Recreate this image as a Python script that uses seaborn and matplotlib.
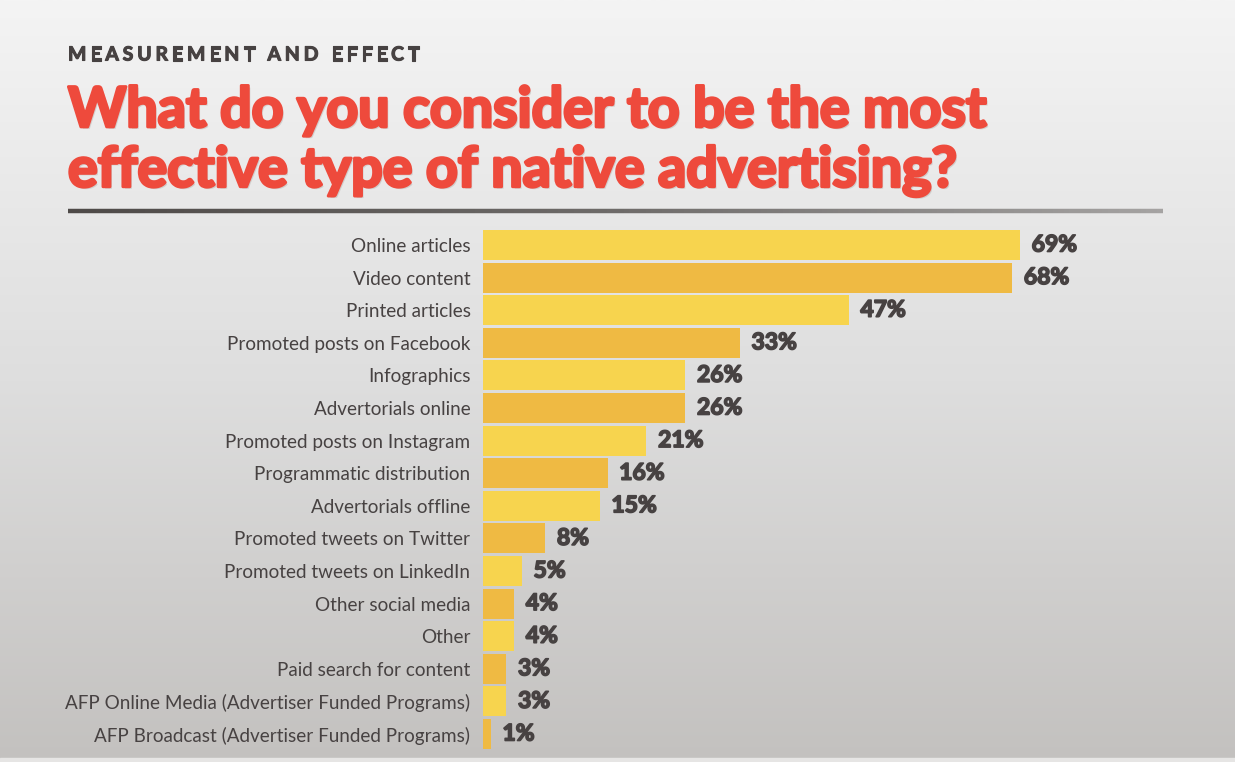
import numpy as np
import pandas as pd
import seaborn as sns
import matplotlib.pyplot as plt
import matplotlib.patheffects as pe
from matplotlib.colors import LinearSegmentedColormap

# chart data
categories = [
    "Online articles",
    "Video content",
    "Printed articles",
    "Promoted posts on Facebook",
    "Infographics",
    "Advertorials online",
    "Promoted posts on Instagram",
    "Programmatic distribution",
    "Advertorials offline",
    "Promoted tweets on Twitter",
    "Promoted tweets on LinkedIn",
    "Other social media",
    "Other",
    "Paid search for content",
    "AFP Online Media (Advertiser Funded Programs)",
    "AFP Broadcast (Advertiser Funded Programs)",
]
shares = [69, 68, 47, 33, 26, 26, 21, 16, 15, 8, 5, 4, 4, 3, 3, 1]

kicker = "MEASUREMENT AND EFFECT"
title = "What do you consider to be the most\neffective type of native advertising?"

light_yellow = "#F7D44E"
dark_yellow = "#EFBA43"
text_dark = "#474242"
title_red = "#EE4A3C"

sns.set_style("white")
plt.rcParams["font.family"] = ["Lato", "DejaVu Sans"]

df = pd.DataFrame({"category": categories, "share": shares})

W, H = 1235, 762
fig = plt.figure(figsize=(W / 100, H / 100), dpi=100)

# gradient background
bg = fig.add_axes([0, 0, 1, 1], zorder=-10)
grad = np.linspace(0, 1, 256).reshape(-1, 1)
cmap = LinearSegmentedColormap.from_list("bg", ["#F4F4F4", "#DEDEDE", "#C3C1BF"])
bg.imshow(grad, aspect="auto", cmap=cmap, extent=[0, 1, 0, 1], origin="upper")
bg.set_xlim(0, 1)
bg.set_ylim(0, 1)
bg.axis("off")

# divider under title, dark on the left fading to grey
x0, x1 = 68 / W, 1163 / W
yd = 1 - 211 / H
line_cmap = LinearSegmentedColormap.from_list("ln", ["#4E4A48", "#6E6B69", "#A5A3A2"])
segs = np.linspace(x0, x1, 200)
for i in range(len(segs) - 1):
    bg.plot([segs[i], segs[i + 1]], [yd, yd], color=line_cmap(i / 199),
            lw=3.2, solid_capstyle="butt")

# bottom light strip
bg.axhspan(0, 4 / H, color="#E6E5E4")

ax_left = 483 / W
ax_right = 1163 / W
ax_top = 1 - 228.7 / H
ax_bottom = 1 - 750.3 / H
ax = fig.add_axes([ax_left, ax_bottom, ax_right - ax_left, ax_top - ax_bottom])
ax.patch.set_alpha(0)

palette = [light_yellow if i % 2 == 0 else dark_yellow for i in range(len(categories))]
sns.barplot(data=df, x="share", y="category", hue="category", palette=palette,
            legend=False, width=0.92, ax=ax, saturation=1, linewidth=0)

px_per_unit = (1020 - 483) / 69
ax.set_xlim(0, (1163 - 483) / px_per_unit)
ax.set_ylim(len(categories) - 0.5, -0.5)
for s in ax.spines.values():
    s.set_visible(False)
ax.set_xticks([])
ax.set_xlabel("")
ax.set_ylabel("")
ax.tick_params(axis="y", length=0, pad=9)
for lab in ax.get_yticklabels():
    lab.set_fontsize(13.6)
    lab.set_color(text_dark)

heavy = [pe.withStroke(linewidth=1.2, foreground=text_dark)]
for i, v in enumerate(shares):
    ax.text(v + 1.5, i, f"{v}%", va="center", ha="left", fontsize=16.5,
            fontweight="bold", color=text_dark, path_effects=heavy)

# letter-spaced kicker, drawn one glyph at a time
renderer = fig.canvas.get_renderer()
xpos = 68
for ch in kicker:
    t = fig.text(xpos / W, 1 - 55 / H, ch, fontsize=14, fontweight="bold",
                 color=text_dark, va="center", ha="left",
                 path_effects=[pe.withStroke(linewidth=0.8, foreground=text_dark)])
    w = t.get_window_extent(renderer).width if ch != " " else 5
    xpos += w + 3.8

title_fx = [pe.withSimplePatchShadow(offset=(1.5, -1.5), shadow_rgbFace="#B9B4B0", alpha=0.5),
            pe.withStroke(linewidth=2.2, foreground=title_red)]
fig.text(68 / W, 1 - 141 / H, title, fontsize=40, fontweight="bold",
         color=title_red, va="center", ha="left", linespacing=1.24,
         path_effects=title_fx)

fig.savefig("out.png", dpi=100)
